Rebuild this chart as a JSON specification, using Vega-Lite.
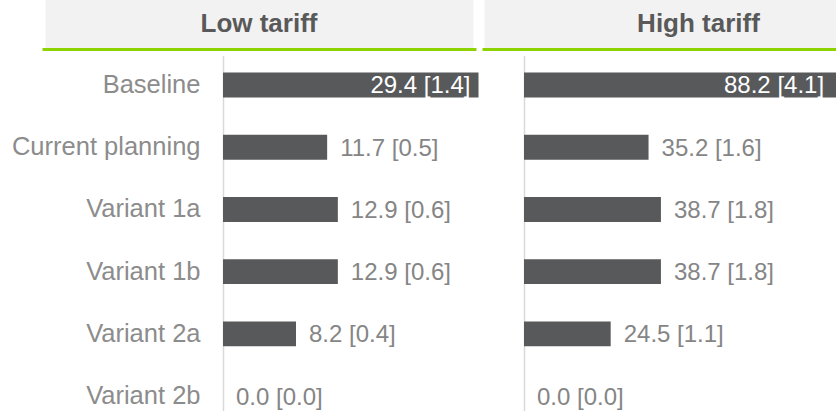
{
  "$schema": "https://vega.github.io/schema/vega-lite/v6.json",
  "background": "white",
  "padding": {"left": 11, "top": 0, "right": 0, "bottom": 0},
  "config": {"view": {"stroke": null}, "font": "Liberation Sans"},
  "datasets": {
    "bars": [
      {"tariff": "Low tariff", "scenario": "Baseline", "value": 29.4, "err": 1.4, "label": "29.4 [1.4]"},
      {"tariff": "Low tariff", "scenario": "Current planning", "value": 11.7, "err": 0.5, "label": "11.7 [0.5]"},
      {"tariff": "Low tariff", "scenario": "Variant 1a", "value": 12.9, "err": 0.6, "label": "12.9 [0.6]"},
      {"tariff": "Low tariff", "scenario": "Variant 1b", "value": 12.9, "err": 0.6, "label": "12.9 [0.6]"},
      {"tariff": "Low tariff", "scenario": "Variant 2a", "value": 8.2, "err": 0.4, "label": "8.2 [0.4]"},
      {"tariff": "Low tariff", "scenario": "Variant 2b", "value": 0.0, "err": 0.0, "label": "0.0 [0.0]"},
      {"tariff": "High tariff", "scenario": "Baseline", "value": 88.2, "err": 4.1, "label": "88.2 [4.1]"},
      {"tariff": "High tariff", "scenario": "Current planning", "value": 35.2, "err": 1.6, "label": "35.2 [1.6]"},
      {"tariff": "High tariff", "scenario": "Variant 1a", "value": 38.7, "err": 1.8, "label": "38.7 [1.8]"},
      {"tariff": "High tariff", "scenario": "Variant 1b", "value": 38.7, "err": 1.8, "label": "38.7 [1.8]"},
      {"tariff": "High tariff", "scenario": "Variant 2a", "value": 24.5, "err": 1.1, "label": "24.5 [1.1]"},
      {"tariff": "High tariff", "scenario": "Variant 2b", "value": 0.0, "err": 0.0, "label": "0.0 [0.0]"}
    ]
  },
  "spacing": 3,
  "hconcat": [
    {
      "spacing": 4.5,
      "vconcat": [
        {
          "width": 255.5,
          "height": 51,
          "data": {"values": [{"tariff": "Low tariff"}]},
          "layer": [
            {
              "mark": {"type": "rect", "color": "#f2f2f2"},
              "encoding": {
                "x": {"datum": -0.6947, "type": "quantitative", "scale": {"domain": [0, 1], "nice": false, "zero": false}, "axis": null},
                "x2": {"datum": 0.9804},
                "y": {"datum": 3, "type": "quantitative", "scale": {"domain": [0, 51], "nice": false}, "axis": null},
                "y2": {"datum": 51}
              }
            },
            {
              "mark": {"type": "rect", "color": "#8dd300"},
              "encoding": {
                "x": {"datum": -0.7065, "type": "quantitative"},
                "x2": {"datum": 0.9922},
                "y": {"datum": 0, "type": "quantitative"},
                "y2": {"datum": 3}
              }
            },
            {
              "mark": {"type": "text", "fontSize": 26, "fontWeight": "bold", "color": "#595959"},
              "encoding": {
                "text": {"field": "tariff"},
                "x": {"datum": 0.1409, "type": "quantitative"},
                "y": {"datum": 27, "type": "quantitative"}
              }
            }
          ]
        },
        {
          "width": 255.5,
          "height": 355,
          "data": {"name": "bars"},
          "transform": [{"filter": "datum.tariff === 'Low tariff'"}],
          "encoding": {
            "y": {
              "field": "scenario", "type": "nominal",
              "scale": {"domain": ["Baseline", "Current planning", "Variant 1a", "Variant 1b", "Variant 2a", "Variant 2b"], "paddingInner": 0.6, "paddingOuter": 0.1535, "align": 0.895},
              "axis": {"title": null, "ticks": false, "domain": false, "labelFontSize": 25.5, "labelColor": "#8c8c8c", "labelPadding": 23, "labelLimit": 400}
            },
            "x": {
              "field": "value", "type": "quantitative",
              "scale": {"domain": [0, 28.7], "nice": false, "clamp": true},
              "axis": {"values": [0], "grid": true, "gridColor": "#d9d9d9", "gridWidth": 1.5, "labels": false, "ticks": false, "domain": false, "title": null}
            }
          },
          "layer": [
            {"mark": {"type": "bar", "color": "#58595b"}},
            {
              "transform": [{"filter": "datum.scenario === 'Baseline'"}],
              "mark": {"type": "text", "align": "right", "dx": -8, "dy": 0.5, "color": "white", "fontSize": 24},
              "encoding": {"text": {"field": "label"}}
            },
            {
              "transform": [{"filter": "datum.scenario !== 'Baseline'"}],
              "mark": {"type": "text", "align": "left", "dx": 13, "dy": 1.5, "color": "#858585", "fontSize": 24},
              "encoding": {"text": {"field": "label"}}
            }
          ]
        }
      ]
    },
    {
      "spacing": 4.5,
      "vconcat": [
        {
          "width": 313.5,
          "height": 51,
          "data": {"values": [{"tariff": "High tariff"}]},
          "layer": [
            {
              "mark": {"type": "rect", "color": "#f2f2f2"},
              "encoding": {
                "x": {"datum": -0.126, "type": "quantitative", "scale": {"domain": [0, 1], "nice": false, "zero": false}, "axis": null},
                "x2": {"datum": 1},
                "y": {"datum": 3, "type": "quantitative", "scale": {"domain": [0, 51], "nice": false}, "axis": null},
                "y2": {"datum": 51}
              }
            },
            {
              "mark": {"type": "rect", "color": "#8dd300"},
              "encoding": {
                "x": {"datum": -0.1324, "type": "quantitative"},
                "x2": {"datum": 1},
                "y": {"datum": 0, "type": "quantitative"},
                "y2": {"datum": 3}
              }
            },
            {
              "mark": {"type": "text", "fontSize": 26, "fontWeight": "bold", "color": "#595959"},
              "encoding": {
                "text": {"field": "tariff"},
                "x": {"datum": 0.5566, "type": "quantitative"},
                "y": {"datum": 27, "type": "quantitative"}
              }
            }
          ]
        },
        {
          "width": 313.5,
          "height": 355,
          "data": {"name": "bars"},
          "transform": [{"filter": "datum.tariff === 'High tariff'"}],
          "encoding": {
            "y": {
              "field": "scenario", "type": "nominal",
              "scale": {"domain": ["Baseline", "Current planning", "Variant 1a", "Variant 1b", "Variant 2a", "Variant 2b"], "paddingInner": 0.6, "paddingOuter": 0.1535, "align": 0.895},
              "axis": null
            },
            "x": {
              "field": "value", "type": "quantitative",
              "scale": {"domain": [0, 88.6], "nice": false, "clamp": true},
              "axis": {"values": [0], "grid": true, "gridColor": "#d9d9d9", "gridWidth": 1.5, "labels": false, "ticks": false, "domain": false, "title": null}
            }
          },
          "layer": [
            {"mark": {"type": "bar", "color": "#58595b"}},
            {
              "transform": [{"filter": "datum.scenario === 'Baseline'"}],
              "mark": {"type": "text", "align": "right", "dx": -12, "dy": 0.5, "color": "white", "fontSize": 24},
              "encoding": {"text": {"field": "label"}}
            },
            {
              "transform": [{"filter": "datum.scenario !== 'Baseline'"}],
              "mark": {"type": "text", "align": "left", "dx": 13, "dy": 1.5, "color": "#858585", "fontSize": 24},
              "encoding": {"text": {"field": "label"}}
            }
          ]
        }
      ]
    }
  ]
}
